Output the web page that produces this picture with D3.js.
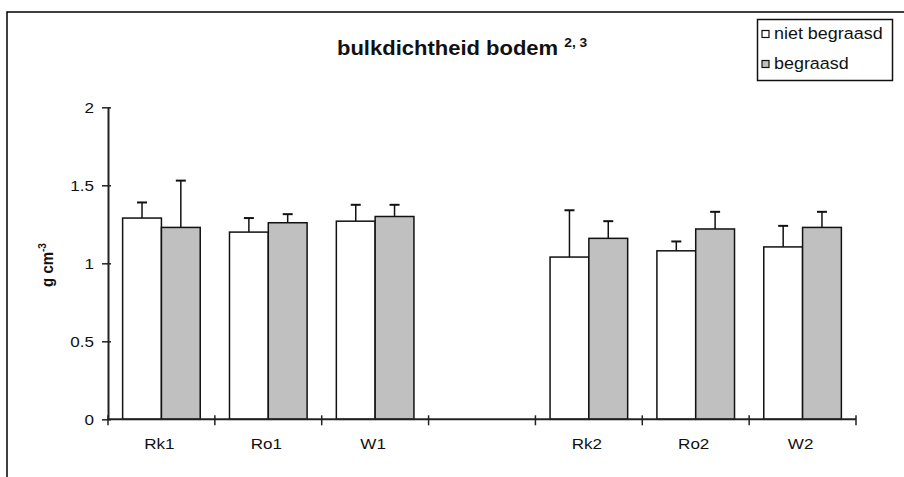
<!DOCTYPE html>
<html>
<head>
<meta charset="utf-8">
<script src="https://cdn.jsdelivr.net/npm/d3@7"></script>
<style>
  html, body { margin: 0; padding: 0; background: #fff; }
  svg { display: block; font-family: "Liberation Sans", Arial, sans-serif; }
</style>
</head>
<body>
<svg id="chart" width="904" height="477"></svg>
<script>
// Bulk density of the soil per plot, grazed vs. ungrazed (g cm-3)
const categories = ["Rk1", "Ro1", "W1", "", "Rk2", "Ro2", "W2"];
const seriesNames = ["niet begraasd", "begraasd"];
const nietBegraasd = [1.29, 1.20, 1.27, null, 1.04, 1.08, 1.105];
const begraasd     = [1.23, 1.26, 1.30, null, 1.16, 1.22, 1.23];
const nietBegraasdErr = [0.10, 0.09, 0.105, null, 0.30, 0.06, 0.135];
const begraasdErr     = [0.30, 0.055, 0.075, null, 0.11, 0.11, 0.10];
const yTicks = [0, 0.5, 1, 1.5, 2];
const seriesFill = ["#ffffff", "#c0c0c0"];

const svg = d3.select("#chart");
const SX = 1.1; // horizontal stretch of the lettering

function stretchedText(sel, x, y) {
  return sel.attr("transform", `translate(${x},${y}) scale(${SX},1)`);
}

// outer chart frame (runs past the right and bottom edges)
svg.append("path")
  .attr("d", "M7,480 V12 H910")
  .attr("fill", "none").attr("stroke", "#000").attr("stroke-width", 1.5);

const plot = { left: 108, right: 856, top: 107.3, bottom: 419.3 };

const x0 = d3.scaleBand()
  .domain(d3.range(categories.length))
  .range([plot.left, plot.right])
  .padding(0);

const x1 = d3.scaleBand()
  .domain(d3.range(seriesNames.length))
  .range([0, x0.bandwidth()])
  .paddingInner(0)
  .paddingOuter(0.377);

const y = d3.scaleLinear().domain([0, 2]).range([plot.bottom, plot.top]);

const rows = categories.map((c, i) => ({
  i, label: c,
  vals: [
    { s: 0, v: nietBegraasd[i], e: nietBegraasdErr[i] },
    { s: 1, v: begraasd[i], e: begraasdErr[i] }
  ]
}));

// bars
const groups = svg.append("g").selectAll("g")
  .data(rows.filter(r => r.vals[0].v != null))
  .join("g")
  .attr("transform", d => `translate(${x0(d.i)},0)`);

groups.selectAll("rect")
  .data(d => d.vals)
  .join("rect")
  .attr("x", d => x1(d.s))
  .attr("y", d => y(d.v))
  .attr("width", x1.bandwidth())
  .attr("height", d => y(0) - y(d.v))
  .attr("fill", d => seriesFill[d.s])
  .attr("stroke", "#111")
  .attr("stroke-width", 1.5);

// upper error bars
const errs = groups.selectAll("g.err")
  .data(d => d.vals)
  .join("g").attr("class", "err");
errs.append("line")
  .attr("x1", d => x1(d.s) + x1.bandwidth() / 2)
  .attr("x2", d => x1(d.s) + x1.bandwidth() / 2)
  .attr("y1", d => y(d.v))
  .attr("y2", d => y(d.v + d.e))
  .attr("stroke", "#111").attr("stroke-width", 1.5);
errs.append("line")
  .attr("x1", d => x1(d.s) + x1.bandwidth() / 2 - 5)
  .attr("x2", d => x1(d.s) + x1.bandwidth() / 2 + 5)
  .attr("y1", d => y(d.v + d.e))
  .attr("y2", d => y(d.v + d.e))
  .attr("stroke", "#111").attr("stroke-width", 2);

// y axis
const yAxis = svg.append("g").attr("transform", `translate(${plot.left},0)`);
yAxis.call(d3.axisLeft(y).tickValues(yTicks).tickSize(0).tickFormat(() => ""));
yAxis.select(".domain").attr("stroke", "#222").attr("stroke-width", 2);
yAxis.selectAll(".tick").append("line")
  .attr("x1", -6).attr("x2", 3).attr("stroke", "#222").attr("stroke-width", 1.5);
yTicks.forEach(t => {
  stretchedText(svg.append("text"), 94, y(t) + 5.5)
    .attr("text-anchor", "end")
    .attr("font-size", 15.5).attr("fill", "#111")
    .text(d3.format("")(t));
});

// x axis
const xAxis = svg.append("g").attr("transform", `translate(0,${plot.bottom})`);
const xBounds = d3.range(categories.length + 1).map(i => plot.left + i * x0.step());
xAxis.append("line")
  .attr("x1", plot.left).attr("x2", plot.right)
  .attr("stroke", "#222").attr("stroke-width", 2);
xAxis.selectAll("line.tick").data(xBounds).join("line")
  .attr("class", "tick")
  .attr("x1", d => d).attr("x2", d => d)
  .attr("y1", -4).attr("y2", 6)
  .attr("stroke", "#222").attr("stroke-width", 1.5);
rows.forEach(r => {
  stretchedText(svg.append("text"), x0(r.i) + x0.bandwidth() / 2 - 2, 449)
    .attr("text-anchor", "middle")
    .attr("font-size", 15.5).attr("fill", "#111")
    .text(r.label);
});

// y axis title
const yt = svg.append("text")
  .attr("transform", `translate(53,265) rotate(-90) scale(1,${SX})`)
  .attr("text-anchor", "middle")
  .attr("font-size", 15).attr("font-weight", "bold").attr("fill", "#111");
yt.append("tspan").text("g cm");
yt.append("tspan").attr("font-size", 10).attr("dy", -6).text("-3");

// chart title
const title = stretchedText(svg.append("text"), 337, 55)
  .attr("font-size", 20).attr("font-weight", "bold").attr("fill", "#111");
title.append("tspan").text("bulkdichtheid bodem ");
title.append("tspan").attr("font-size", 12.5).attr("dy", -8).text("2, 3");

// legend
svg.append("rect")
  .attr("x", 757.5).attr("y", 19.5).attr("width", 135).attr("height", 61)
  .attr("fill", "#fff").attr("stroke", "#111").attr("stroke-width", 1.5);
seriesNames.forEach((name, i) => {
  const ly = 39 + i * 30;
  svg.append("rect")
    .attr("x", 762).attr("y", ly - 8.5).attr("width", 7).attr("height", 7)
    .attr("fill", seriesFill[i]).attr("stroke", "#111").attr("stroke-width", 1.2);
  stretchedText(svg.append("text"), 774, ly)
    .attr("font-size", 16.3).attr("fill", "#111")
    .text(name);
});
</script>
</body>
</html>
